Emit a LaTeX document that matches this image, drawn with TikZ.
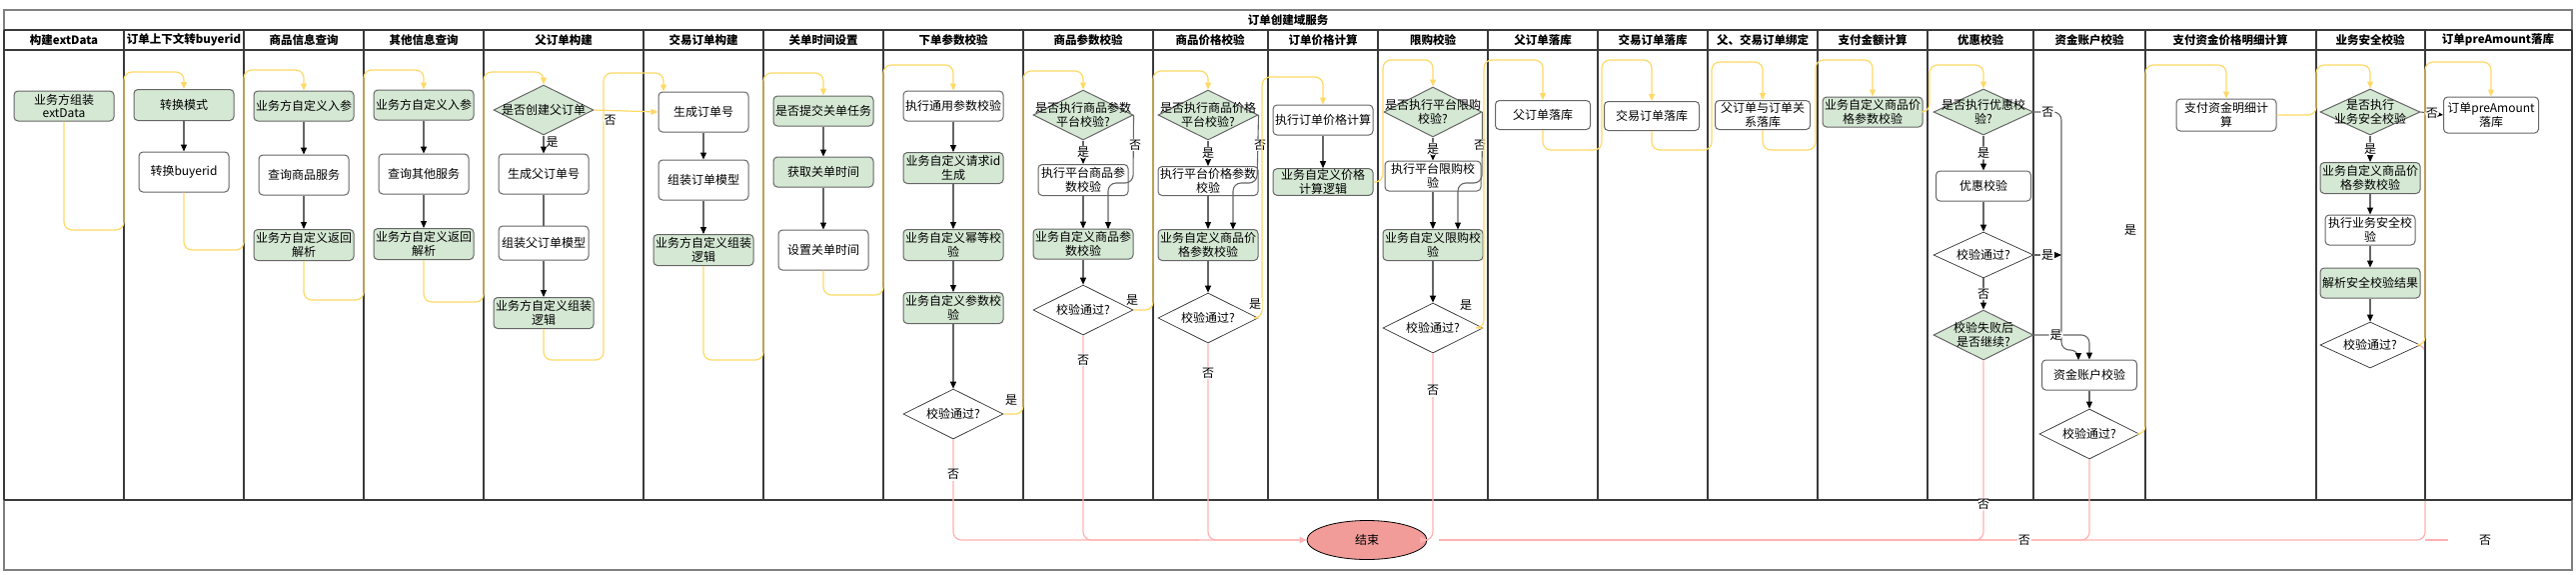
\documentclass[tikz,border=0pt]{standalone}
\usepackage{fontspec}
\setmainfont{Noto Sans CJK SC}
\usetikzlibrary{shapes.geometric,arrows.meta}
\definecolor{gfill}{HTML}{D5E8D4}
\definecolor{boxd}{HTML}{666666}
\definecolor{lanec}{HTML}{3A3A3A}
\definecolor{framec}{HTML}{808080}
\definecolor{arrc}{HTML}{666666}
\definecolor{yelc}{HTML}{FFD966}
\definecolor{pinkc}{HTML}{FFB0B0}
\definecolor{endc}{HTML}{F19C99}
\begin{document}
\begin{tikzpicture}[x=1pt,y=-1pt,
  lanel/.style={draw=lanec,line width=1.4pt},
  hdr/.style={font=\fontsize{11.5}{13}\selectfont\bfseries,inner sep=0pt},
  bx/.style={rounded corners=4pt,draw=boxd,line width=1pt,align=center,inner sep=1pt,font=\fontsize{12}{13.5}\selectfont},
  gb/.style 2 args={bx,fill=gfill,minimum width=#1pt,minimum height=#2pt},
  wb/.style 2 args={bx,fill=white,minimum width=#1pt,minimum height=#2pt},
  gd/.style 2 args={diamond,draw=boxd,line width=1pt,fill=gfill,minimum width=#1pt,minimum height=#2pt,inner sep=0pt},
  wd/.style 2 args={diamond,draw=black!80,line width=0.7pt,fill=white,minimum width=#1pt,minimum height=#2pt,inner sep=0pt},
  dt/.style={align=center,font=\fontsize{12}{13.5}\selectfont,inner sep=0pt},
  arr/.style={draw=arrc,line width=1.1pt,rounded corners=8pt,-{Triangle[length=7pt,width=6pt,color=black]}},
  ln/.style={draw=arrc,line width=1.1pt},
  yel/.style={draw=yelc,line width=1.2pt,rounded corners=8pt,-{Triangle[length=7pt,width=6pt]}},
  pk/.style={draw=pinkc,line width=1.2pt,rounded corners=8pt},
  pka/.style={pk,-{Triangle[length=7pt,width=6pt]}},
  lb/.style={fill=white,inner sep=1pt,font=\fontsize{12}{13}\selectfont},
]
\useasboundingbox (0,0) rectangle (2578,574);
% nodes first (positions), lanes drawn on background via order below
\coordinate (aa4e) at (2422,345);
% pink route hidden under lane border (drawn before lanes)
\draw[pk] (aa4e) -- (2427,345) -- (2427,540) -- (1440,540);
% frame
\draw[draw=framec,line width=1.4pt] (4,10) rectangle (2574,570);
\draw[lanel] (4,30) -- (2574,30);
\draw[lanel] (4,50) -- (2574,50);
\draw[lanel] (4,500) -- (2574,500);
\draw[lanel] (4,30) -- (4,500);
\foreach \xx in {124,244,364,484,644,764,884,1024,1154,1269,1379,1489,1599,1709,1819,1929,2035,2147,2318,2427,2574}
  \draw[lanel] (\xx,30) -- (\xx,500);
\node[hdr] (title) at (1289,20) {订单创建域服务};
\node[hdr] (h1) at (64,40) {构建extData};
\node[hdr] (h2) at (184,40) {订单上下文转buyerid};
\node[hdr] (h3) at (304,40) {商品信息查询};
\node[hdr] (h4) at (424,40) {其他信息查询};
\node[hdr] (h5) at (564,40) {父订单构建};
\node[hdr] (h6) at (704,40) {交易订单构建};
\node[hdr] (h7) at (824,40) {关单时间设置};
\node[hdr] (h8) at (954,40) {下单参数校验};
\node[hdr] (h9) at (1089,40) {商品参数校验};
\node[hdr] (h10) at (1211,40) {商品价格校验};
\node[hdr] (h11) at (1324,40) {订单价格计算};
\node[hdr] (h12) at (1434,40) {限购校验};
\node[hdr] (h13) at (1544,40) {父订单落库};
\node[hdr] (h14) at (1654,40) {交易订单落库};
\node[hdr] (h15) at (1764,40) {父、交易订单绑定};
\node[hdr] (h16) at (1874,40) {支付金额计算};
\node[hdr] (h17) at (1982,40) {优惠校验};
\node[hdr] (h18) at (2091,40) {资金账户校验};
\node[hdr] (h19) at (2232,40) {支付资金价格明细计算};
\node[hdr] (h20) at (2372,40) {业务安全校验};
\node[hdr] (h21) at (2500,40) {订单preAmount落库};

% lane 1
\node[gb={100}{30}] (a1) at (64,106) {业务方组装\\extData};
% lane 2
\node[gb={100}{31}] (b1) at (184,105) {转换模式};
\node[wb={90}{40}] (b2) at (184,172) {转换buyerid};
% lane 3
\node[gb={100}{30}] (c1) at (304,106) {业务方自定义入参};
\node[wb={90}{40}] (c2) at (304,175) {查询商品服务};
\node[gb={100}{31}] (c3) at (304,245) {业务方自定义返回\\解析};
% lane 4
\node[gb={100}{30}] (e1) at (424,105) {业务方自定义入参};
\node[wb={90}{40}] (e2) at (424,174) {查询其他服务};
\node[gb={100}{31}] (e3) at (424,244) {业务方自定义返回\\解析};
% lane 5
\node[gd={100}{50}] (f0) at (544,110) {};
\node[dt] (f0t) at (f0) {是否创建父订单};
\node[wb={90}{40}] (f1) at (544,174) {生成父订单号};
\node[wb={90}{34}] (f2) at (544,243) {组装父订单模型};
\node[gb={100}{31}] (f3) at (544,313) {业务方自定义组装\\逻辑};
% lane 6
\node[wb={90}{40}] (g1) at (704,112) {生成订单号};
\node[wb={90}{40}] (g2) at (704,180) {组装订单模型};
\node[gb={100}{31}] (g3) at (704,250) {业务方自定义组装\\逻辑};
% lane 7
\node[gb={100}{30}] (k1) at (824,111) {是否提交关单任务};
\node[gb={100}{30}] (k2) at (824,172) {获取关单时间};
\node[wb={90}{40}] (k3) at (824,250) {设置关单时间};
% lane 8
\node[wb={100}{30}] (m1) at (954,106) {执行通用参数校验};
\node[gb={100}{31}] (m2) at (954,168) {业务自定义请求id\\生成};
\node[gb={100}{31}] (m3) at (954,245) {业务自定义幂等校\\验};
\node[gb={100}{31}] (m4) at (954,308) {业务自定义参数校\\验};
\node[wd={100}{50}] (m5) at (954,414) {};
\node[dt] (m5t) at (m5) {校验通过?};
% lane 9
\node[gd={100}{50}] (p0) at (1084,115) {};
\node[dt] (p0t) at (p0) {是否执行商品参数\\平台校验?};
\node[wb={90}{31}] (p1) at (1084,180) {执行平台商品参\\数校验};
\node[gb={100}{30}] (p2) at (1084,244) {业务自定义商品参\\数校验};
\node[wd={100}{50}] (p3) at (1084,310) {};
\node[dt] (p3t) at (p3) {校验通过?};
% lane 10
\node[gd={100}{50}] (q0) at (1209,115) {};
\node[dt] (q0t) at (q0) {是否执行商品价格\\平台校验?};
\node[wb={100}{29}] (q1) at (1209,181) {执行平台价格参数\\校验};
\node[gb={100}{31}] (q2) at (1209,245) {业务自定义商品价\\格参数校验};
\node[wd={100}{50}] (q3) at (1209,318) {};
\node[dt] (q3t) at (q3) {校验通过?};
% lane 11
\node[wb={100}{30}] (r1) at (1324,120) {执行订单价格计算};
\node[gb={100}{25}] (r2) at (1324,182) {业务自定义价格\\计算逻辑};
% lane 12
\node[gd={98}{50}] (s0) at (1434,112) {};
\node[dt] (s0t) at (s0) {是否执行平台限购\\校验?};
\node[wb={96}{30}] (s1) at (1434,176) {执行平台限购校\\验};
\node[gb={100}{31}] (s2) at (1434,245) {业务自定义限购校\\验};
\node[wd={100}{50}] (s3) at (1434,328) {};
\node[dt] (s3t) at (s3) {校验通过?};
% lanes 13-16
\node[wb={95}{29}] (t1) at (1544,115) {父订单落库};
\node[wb={95}{29}] (u1) at (1653,116) {交易订单落库};
\node[wb={95}{29}] (v1) at (1764,115) {父订单与订单关\\系落库};
\node[gb={100}{30}] (w1) at (1874,112) {业务自定义商品价\\格参数校验};
% lane 17
\node[gd={100}{46}] (x0) at (1985,112) {};
\node[dt] (x0t) at (x0) {是否执行优惠校\\验?};
\node[wb={95}{30}] (x1) at (1985,186) {优惠校验};
\node[wd={100}{46}] (x2) at (1985,255) {};
\node[dt] (x2t) at (x2) {校验通过?};
\node[gd={100}{50}] (x3) at (1985,335) {};
\node[dt] (x3t) at (x3) {校验失败后\\是否继续?};
% lane 18
\node[wb={95}{30}] (y1) at (2091,375) {资金账户校验};
\node[wd={100}{50}] (y2) at (2091,434) {};
\node[dt] (y2t) at (y2) {校验通过?};
% lane 19
\node[wb={100}{32}] (z1) at (2228,115) {支付资金明细计\\算};
% lane 20
\node[gd={100}{46}] (aa0) at (2372,112) {};
\node[dt] (aa0t) at (aa0) {是否执行\\业务安全校验};
\node[gb={100}{31}] (aa1) at (2372,178) {业务自定义商品价\\格参数校验};
\node[wb={90}{30}] (aa2) at (2372,230) {执行业务安全校\\验};
\node[gb={100}{30}] (aa3) at (2372,283) {解析安全校验结果};
\node[wd={100}{46}] (aa4) at (2372,345) {};
\node[dt] (aa4t) at (aa4) {校验通过?};
% lane 21
\node[wb={95}{36}] (ab1) at (2493,115) {订单preAmount\\落库};
% end
\node[ellipse,draw=black,line width=0.8pt,fill=endc,minimum width=120pt,minimum height=39pt,font=\fontsize{12}{13}\selectfont] (end) at (1368,540) {结束};

% ---------- gray arrows
\draw[arr] (b1) -- (b2);
\draw[arr] (c1) -- (c2);
\draw[arr] (c2) -- (c3);
\draw[arr] (e1) -- (e2);
\draw[arr] (e2) -- (e3);
\draw[arr] (f0) -- node[lb,pos=0.35,right=1pt] (lf0) {是} (f1);
\draw[ln] (f1) -- (f2);
\draw[arr] (f2) -- (f3);
\draw[arr] (g1) -- (g2);
\draw[arr] (g2) -- (g3);
\draw[arr] (k1) -- (k2);
\draw[arr] (k2) -- (k3);
\draw[arr] (m1) -- (m2);
\draw[arr] (m2) -- (m3);
\draw[arr] (m3) -- (m4);
\draw[arr] (m4) -- (m5);
\draw[arr] (p0) -- node[lb] (lp0) {是} (p1);
\draw[arr] (p1) -- (p2);
\draw[arr] (p0.east) -- (1134,183) -- (1109,183) -- (1109,229);
\node[lb] (lp0n) at (1136,145) {否};
\draw[arr] (p2) -- (p3);
\draw[arr] (q0) -- node[lb] (lq0) {是} (q1);
\draw[arr] (q1) -- (q2);
\draw[arr] (q0.east) -- (1258,183) -- (1234,183) -- (1234,229.5);
\node[lb] (lq0n) at (1261,145) {否};
\draw[arr] (q2) -- (q3);
\draw[arr] (r1) -- (r2);
\draw[arr] (s0) -- node[lb] (ls0) {是} (s1);
\draw[arr] (s1) -- (s2);
\draw[arr] (s0.east) -- (1483,183) -- (1459,183) -- (1459,229.5);
\node[lb] (ls0n) at (1481,145) {否};
\draw[arr] (s2) -- (s3);
\draw[arr] (x0) -- node[lb] (lx0) {是} (x1);
\draw[arr] (x1) -- (x2);
\draw[arr] (x2) -- node[lb] (lx2) {否} (x3);
\draw[arr] (x0.east) -- node[lb,pos=0.5] (lx0n) {否} (2063,112) -- (2063,350) -- (2080,350) -- (2080,360);
\draw[arr] (x2.east) -- node[lb,pos=0.5] (lx2y) {是} (2063,255);
\draw[arr] (x3.east) -- node[lb,pos=0.4] (lx3y) {是} (2091,335) -- (y1.north);
\draw[arr] (y1) -- (y2);
\draw[arr] (aa0) -- node[lb] (laa0) {是} (aa1);
\draw[arr] (aa1) -- (aa2);
\draw[arr] (aa2) -- (aa3);
\draw[arr] (aa3) -- (aa4);
\draw[arr] (aa0.east) -- node[lb] (laa0n) {否} (ab1.west);

% ---------- yellow connectors
\draw[yel] (a1.south) -- (64,230) -- (124,230) -- (124,72) -- (184,72) -- (b1.north);
\draw[yel] (b2.south) -- (184,250) -- (244,250) -- (244,70) -- (304,70) -- (c1.north);
\draw[yel] (c3.south) -- (304,300) -- (364,300) -- (364,70) -- (424,70) -- (e1.north);
\draw[yel] (e3.south) -- (424,302) -- (484,302) -- (484,72) -- (544,72) -- (f0.north);
\draw[yel] (f3.south) -- (544,360) -- (604,360) -- (604,73) -- (664,73) -- (g1.north -| 664,0);
\draw[yel] (f0.east) -- node[lb,pos=0.25,below=3pt] (lf0n) {否} (g1.west);
\draw[yel] (g3.south) -- (704,360) -- (764,360) -- (764,73) -- (824,73) -- (k1.north);
\draw[yel] (k3.south) -- (824,295) -- (884,295) -- (884,65) -- (954,65) -- (m1.north);
\draw[yel] (m5.east) -- (1024,414) -- (1024,71) -- (1084,71) -- (p0.north);
\node[lb] (lm5) at (1012,400) {是};
\draw[yel] (p3.east) -- (1154,310) -- (1154,71) -- (1209,71) -- (q0.north);
\node[lb] (lp3) at (1133,300) {是};
\draw[yel] (q3.east) -- (1263,318) -- (1263,77) -- (1324,77) -- (r1.north);
\node[lb] (lq3) at (1256,304) {是};
\draw[yel] (r2.east) -- (1384,182) -- (1384,60) -- (1434,60) -- (s0.north);
\draw[yel] (s3.east) -- (1485,328) -- (1485,60) -- (1544,60) -- (t1.north);
\node[lb] (ls3) at (1467,305) {是};
\draw[yel] (t1.south) -- (1544,150) -- (1603,150) -- (1603,60) -- (1653,60) -- (u1.north);
\draw[yel] (u1.south) -- (1653,150) -- (1713,150) -- (1713,62) -- (1764,62) -- (v1.north);
\draw[yel] (v1.south) -- (1764,150) -- (1817,150) -- (1817,60) -- (1874,60) -- (w1.north);
\draw[yel] (w1.east) -- (1931,112) -- (1931,65) -- (1985,65) -- (x0.north);
\draw[yel] (y2.east) -- (2147,434) -- (2147,65) -- (2228,65) -- (z1.north);
\node[lb] (ly2) at (2132,230) {是};
\draw[yel] (z1.east) -- (2318,115) -- (2318,65) -- (2372,65) -- (aa0.north);
\draw[yel] (aa4.east) -- (2427,345) -- (2427,62) -- (2493,62) -- (ab1.north);

% ---------- pink connectors
\draw[pka] (m5.south) -- node[lb,pos=0.35] (lm5n) {否} (954,540) -- (end.west);
\draw[pk] (p3.south) -- node[lb,pos=0.12] (lp3n) {否} (1084,540) -- (1200,540);
\draw[pk] (q3.south) -- node[lb,pos=0.15] (lq3n) {否} (1209,540) -- (1300,540);
\draw[pka] (s3.south) -- node[lb,pos=0.2] (ls3n) {否} (1434,540) -- (end.east);
\draw[pk] (x3.south) -- node[lb,pos=0.8] (lx3n) {否} (1985,540) -- (1440,540);
\draw[pk] (y2.south) -- (2091,540) -- node[lb,pos=0.1] (ly2n) {否} (1440,540);
\draw[pk] (2427,540) -- (2450,540);
\node[lb] (laa4n) at (2487,540) {否};
\end{tikzpicture}
\end{document}
